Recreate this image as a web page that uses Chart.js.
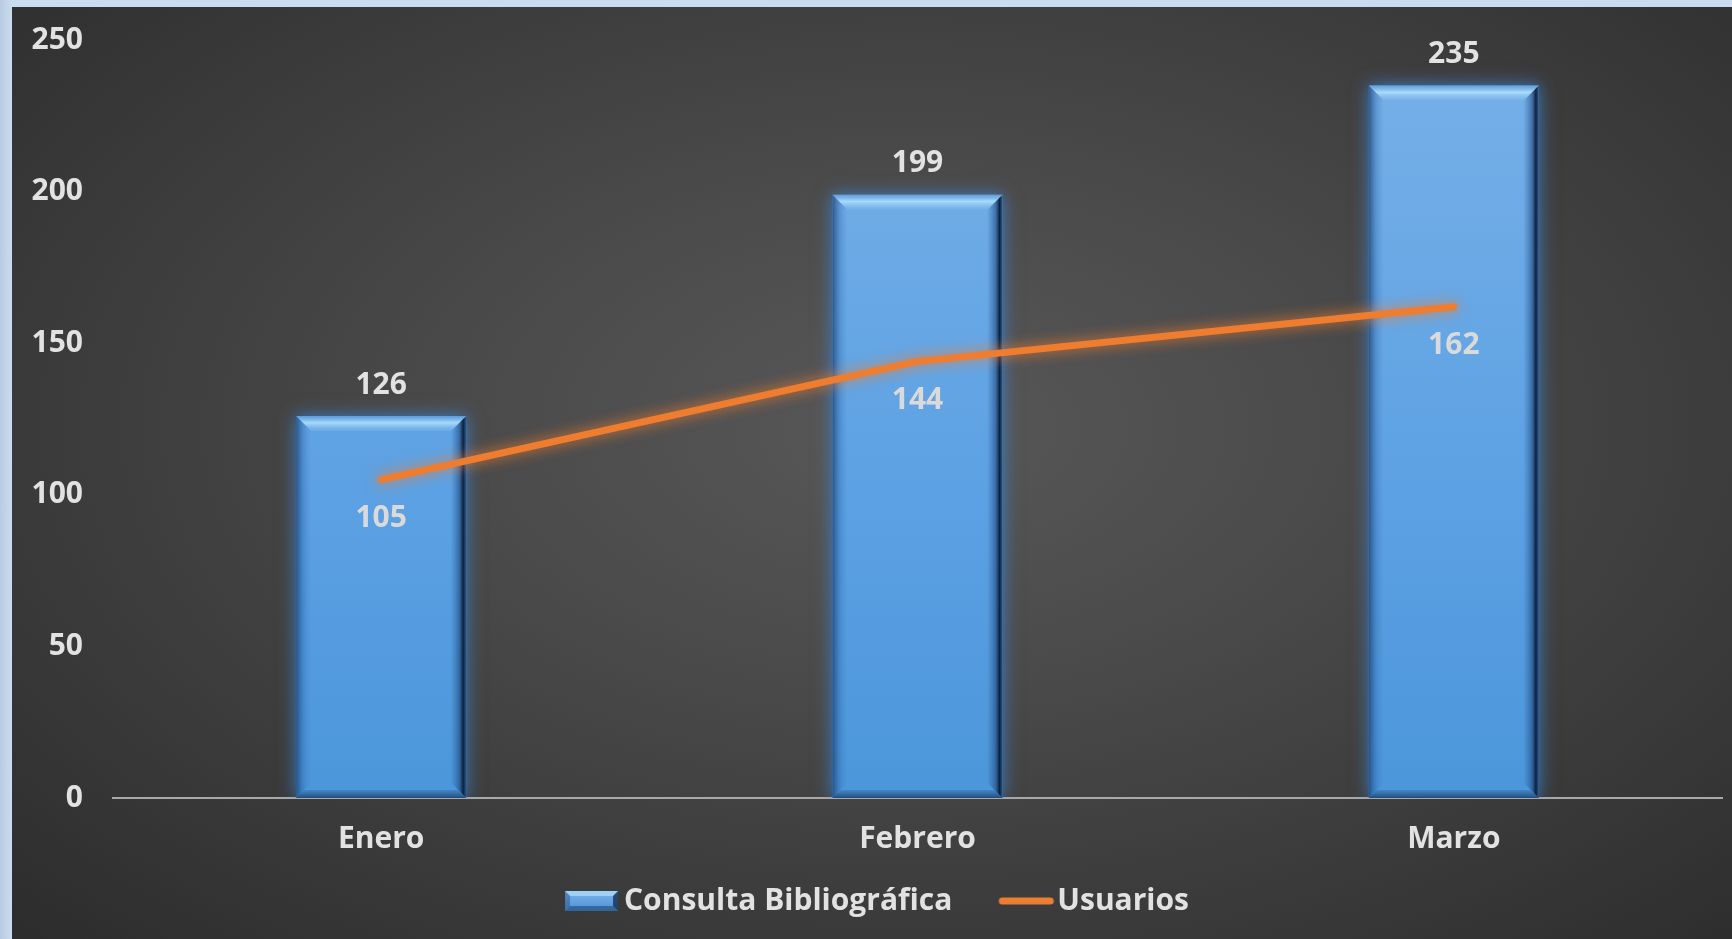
<!DOCTYPE html>
<html lang="es">
<head>
<meta charset="utf-8">
<title>Consulta Bibliográfica y Usuarios</title>
<script src="https://cdn.jsdelivr.net/npm/chart.js@4.4.1/dist/chart.umd.min.js"></script>
<style>
    html, body { margin: 0; padding: 0; }
    body {
        width: 1732px; height: 939px; overflow: hidden; position: relative;
        background: linear-gradient(90deg, #b8cbe1 0px, #cadcef 12px, #c9dbef 100%);
    }
    #panel {
        position: absolute; left: 12px; top: 7px; width: 1720px; height: 932px;
        background: radial-gradient(ellipse 75% 80% at 52% 45%, #585858 0%, #4a4a4a 35%, #2b2b2b 100%);
    }
    canvas { display: block; }
</style>
</head>
<body>
<div id="panel"><canvas id="grafico" width="1720" height="932"></canvas></div>
<script>
// Datos del gráfico
const categorias = ['Enero', 'Febrero', 'Marzo'];
const consultas = [126, 199, 235];
const usuarios = [105, 144, 162];
const ticksY = [0, 50, 100, 150, 200, 250];

const FUENTE = '"Open Sans"';
const TXT = '#e2e2e2';
const SIMB_W = 100; // ancho del lienzo de cada símbolo de leyenda
const SIMB_M = 38;  // margen izquierdo del símbolo dentro del lienzo

// Símbolos de la leyenda (barra biselada y línea naranja)
function simboloBarra() {
    const c = document.createElement('canvas');
    c.width = SIMB_W; c.height = 20;
    const g = c.getContext('2d');
    const w = 53, h = 20, b = 5;
    g.translate(SIMB_M, 0);
    const grad = g.createLinearGradient(0, 0, 0, h);
    grad.addColorStop(0, '#7db4ea');
    grad.addColorStop(1, '#4b92d6');
    g.fillStyle = grad;
    g.fillRect(0, 0, w, h);
    g.fillStyle = 'rgba(190,230,255,0.6)';
    g.beginPath(); g.moveTo(0, 0); g.lineTo(w, 0); g.lineTo(w - b, b); g.lineTo(b, b); g.closePath(); g.fill();
    g.fillStyle = 'rgba(10,30,60,0.7)';
    g.beginPath(); g.moveTo(w, 0); g.lineTo(w, h); g.lineTo(w - b, h - b); g.lineTo(w - b, b); g.closePath(); g.fill();
    g.fillStyle = 'rgba(20,55,95,0.5)';
    g.beginPath(); g.moveTo(0, h); g.lineTo(w, h); g.lineTo(w - b, h - b); g.lineTo(b, h - b); g.closePath(); g.fill();
    g.fillStyle = 'rgba(20,55,95,0.35)';
    g.beginPath(); g.moveTo(0, 0); g.lineTo(b, b); g.lineTo(b, h - b); g.lineTo(0, h); g.closePath(); g.fill();
    return c;
}
function simboloLinea() {
    const c = document.createElement('canvas');
    c.width = SIMB_W; c.height = 10;
    const g = c.getContext('2d');
    g.strokeStyle = '#ed7d31';
    g.lineWidth = 7;
    g.lineCap = 'round';
    g.beginPath(); g.moveTo(SIMB_M + 4, 5); g.lineTo(SIMB_M + 52, 5); g.stroke();
    return c;
}

// Brillo (sombra) de cada serie + bisel de las barras
const efectosPlugin = {
    id: 'efectos',
    beforeDatasetDraw(chart, args) {
        const ctx = chart.ctx;
        ctx.save();
        if (args.index === 0) {
            ctx.shadowColor = 'rgba(60,135,220,0.8)';
            ctx.shadowBlur = 16;
        } else {
            ctx.shadowColor = 'rgba(240,125,45,0.95)';
            ctx.shadowBlur = 14;
        }
    },
    afterDatasetDraw(chart, args) {
        const ctx = chart.ctx;
        ctx.restore();
        if (args.index !== 0) return;
        const b = 15;
        args.meta.data.forEach(bar => {
            const { x, y, base, width } = bar.getProps(['x', 'y', 'base', 'width'], true);
            const l = x - width / 2, r = x + width / 2, t = y, bt = base;
            ctx.save();
            // bisel superior
            const gt = ctx.createLinearGradient(0, t, 0, t + b);
            gt.addColorStop(0, 'rgba(90,150,215,0.6)');
            gt.addColorStop(0.45, 'rgba(175,225,255,0.9)');
            gt.addColorStop(1, 'rgba(130,185,235,0.3)');
            ctx.fillStyle = gt;
            ctx.beginPath(); ctx.moveTo(l, t); ctx.lineTo(r, t); ctx.lineTo(r - b, t + b); ctx.lineTo(l + b, t + b); ctx.closePath(); ctx.fill();
            // bisel izquierdo
            const gl = ctx.createLinearGradient(l, 0, l + b, 0);
            gl.addColorStop(0, 'rgba(25,60,105,0.75)');
            gl.addColorStop(0.5, 'rgba(40,95,160,0.3)');
            gl.addColorStop(1, 'rgba(60,120,190,0)');
            ctx.fillStyle = gl;
            ctx.beginPath(); ctx.moveTo(l, t); ctx.lineTo(l + b, t + b); ctx.lineTo(l + b, bt - b); ctx.lineTo(l, bt); ctx.closePath(); ctx.fill();
            // bisel derecho
            const gr = ctx.createLinearGradient(r - b, 0, r, 0);
            gr.addColorStop(0, 'rgba(40,90,150,0.05)');
            gr.addColorStop(0.55, 'rgba(25,60,110,0.55)');
            gr.addColorStop(0.8, 'rgba(8,25,50,0.95)');
            gr.addColorStop(1, 'rgba(30,70,120,0.8)');
            ctx.fillStyle = gr;
            ctx.beginPath(); ctx.moveTo(r, t); ctx.lineTo(r, bt); ctx.lineTo(r - b, bt - b); ctx.lineTo(r - b, t + b); ctx.closePath(); ctx.fill();
            // bisel inferior
            const gb = ctx.createLinearGradient(0, bt - 8, 0, bt);
            gb.addColorStop(0, 'rgba(30,70,120,0.2)');
            gb.addColorStop(1, 'rgba(20,50,90,0.75)');
            ctx.fillStyle = gb;
            ctx.beginPath(); ctx.moveTo(l, bt); ctx.lineTo(r, bt); ctx.lineTo(r - 8, bt - 8); ctx.lineTo(l + 8, bt - 8); ctx.closePath(); ctx.fill();
            ctx.restore();
        });
    }
};

// Etiquetas de valores
const etiquetasPlugin = {
    id: 'etiquetas',
    afterDatasetsDraw(chart) {
        const ctx = chart.ctx;
        ctx.save();
        ctx.font = `bold 30px ${FUENTE}`;
        ctx.textAlign = 'center';
        ctx.textBaseline = 'middle';
        chart.getDatasetMeta(0).data.forEach((bar, i) => {
            ctx.fillStyle = TXT;
            ctx.fillText(consultas[i], bar.x, bar.y - 31);
        });
        chart.getDatasetMeta(1).data.forEach((pt, i) => {
            ctx.fillStyle = '#dadada';
            ctx.fillText(usuarios[i], pt.x, pt.y + 39);
        });
        ctx.restore();
    }
};

const ctx = document.getElementById('grafico').getContext('2d');

new Chart(ctx, {
    type: 'bar',
    data: {
        labels: categorias,
        datasets: [
            {
                label: 'Consulta Bibliográfica',
                data: consultas,
                order: 1,
                backgroundColor: (c) => {
                    const area = c.chart.chartArea;
                    if (!area) return '#5b9bd5';
                    const g = c.chart.ctx.createLinearGradient(0, area.top, 0, area.bottom);
                    g.addColorStop(0, '#78b0e8');
                    g.addColorStop(0.6, '#5ca1e3');
                    g.addColorStop(1, '#4b96da');
                    return g;
                },
                borderWidth: 0,
                categoryPercentage: 1,
                barPercentage: 0.317,
                pointStyle: simboloBarra()
            },
            {
                type: 'line',
                label: 'Usuarios',
                data: usuarios,
                order: 0,
                borderColor: '#ee7d30',
                backgroundColor: '#ee7d30',
                borderWidth: 7,
                borderCapStyle: 'round',
                borderJoinStyle: 'round',
                pointRadius: 0,
                tension: 0,
                clip: false,
                pointStyle: simboloLinea()
            }
        ]
    },
    options: {
        responsive: false,
        animation: false,
        devicePixelRatio: 1,
        layout: { padding: { top: 33, right: 10, left: 0, bottom: 13 } },
        plugins: {
            tooltip: { enabled: false },
            legend: {
                position: 'bottom',
                labels: {
                    usePointStyle: true,
                    pointStyleWidth: 64,
                    padding: 26,
                    color: TXT,
                    font: { family: FUENTE, size: 30, weight: 'bold' },
                    sort: (a, b) => a.datasetIndex - b.datasetIndex
                }
            }
        },
        scales: {
            x: {
                grid: { display: false, drawTicks: false },
                border: { display: true, color: '#a9a9a9', width: 2 },
                ticks: {
                    color: TXT,
                    padding: 23,
                    font: { family: FUENTE, size: 30, weight: 'bold' }
                },
                afterFit: (s) => { s.height = 62; }
            },
            y: {
                min: ticksY[0],
                max: ticksY[ticksY.length - 1],
                grid: { display: false, drawTicks: false },
                border: { display: false },
                ticks: {
                    stepSize: ticksY[1] - ticksY[0],
                    color: TXT,
                    padding: 30,
                    font: { family: FUENTE, size: 30, weight: 'bold' }
                },
                afterFit: (s) => { s.width = 101; s.paddingTop = 0; s.paddingBottom = 0; }
            }
        }
    },
    plugins: [efectosPlugin, etiquetasPlugin]
});
</script>
</body>
</html>
